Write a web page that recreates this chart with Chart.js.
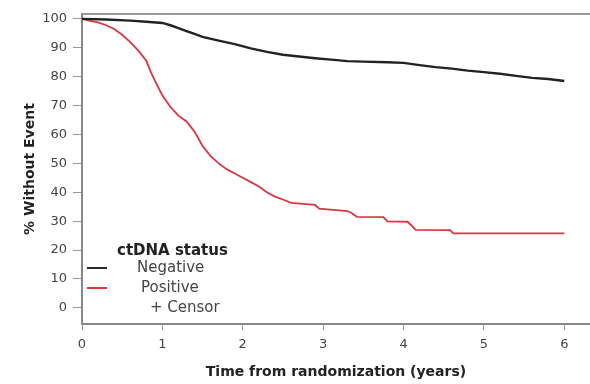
<!DOCTYPE html>
<html>
<head>
<meta charset="utf-8">
<script src="https://cdn.jsdelivr.net/npm/chart.js@4.4.1/dist/chart.umd.min.js"></script>
<style>
  body { margin: 0; background: #fff; }
  #wrap { position: relative; width: 590px; height: 384px; font-family: "DejaVu Sans", sans-serif; }
  .lg { position: absolute; font-size: 15px; color: #444; line-height: 18px; white-space: nowrap; }
  .sw { position: absolute; width: 20px; height: 2px; }
</style>
</head>
<body>
<div id="wrap">
  <canvas id="kmChart"></canvas>
  <div class="lg" style="left:117px; top:241px; font-weight:bold; color:#222;">ctDNA status</div>
  <div class="sw" style="left:87px; top:267px; background:#2a2a2a;"></div>
  <div class="lg" style="left:137px; top:258px;">Negative</div>
  <div class="sw" style="left:87px; top:287px; background:#d9373f;"></div>
  <div class="lg" style="left:141px; top:278px;">Positive</div>
  <div class="lg" style="left:150px; top:298px;">+ Censor</div>
</div>
<script>
// Kaplan-Meier curves (years, % without event)
const negTime = [0, 0.3, 0.6, 0.8, 1.0, 1.1, 1.2, 1.3, 1.4, 1.5, 1.7, 1.9, 2.1, 2.3, 2.5, 2.7, 2.9, 3.1, 3.3, 3.5, 3.8, 4.0, 4.2, 4.4, 4.6, 4.8, 5.0, 5.2, 5.4, 5.6, 5.8, 6.0];
const negSurv = [100, 99.8, 99.4, 99.0, 98.6, 97.8, 96.8, 95.8, 94.8, 93.8, 92.5, 91.3, 89.8, 88.6, 87.6, 87.0, 86.4, 85.9, 85.4, 85.2, 85.0, 84.8, 84.0, 83.3, 82.8, 82.1, 81.6, 81.0, 80.3, 79.6, 79.2, 78.5];

const posTime = [0, 0.1, 0.2, 0.3, 0.4, 0.5, 0.6, 0.7, 0.8, 0.85, 0.9, 1.0, 1.1, 1.2, 1.3, 1.4, 1.5, 1.6, 1.7, 1.8, 1.9, 2.0, 2.1, 2.2, 2.3, 2.4, 2.5, 2.6, 2.9, 2.95, 3.3, 3.35, 3.42, 3.75, 3.8, 4.05, 4.1, 4.15, 4.58, 4.62, 6.0];
const posSurv = [100, 99.3, 98.8, 97.8, 96.5, 94.5, 92.0, 89.0, 85.5, 82.0, 79.0, 73.5, 69.5, 66.5, 64.5, 61.0, 56.0, 52.5, 50.0, 48.0, 46.5, 45.0, 43.5, 42.0, 40.0, 38.5, 37.5, 36.3, 35.6, 34.3, 33.5, 32.9, 31.5, 31.4, 29.9, 29.8, 28.5, 27.0, 26.9, 25.8, 25.8];

const xTicks = [0, 1, 2, 3, 4, 5, 6];
const yTicks = [0, 10, 20, 30, 40, 50, 60, 70, 80, 90, 100];

const toPoints = (t, s) => t.map((x, i) => ({ x: x, y: s[i] }));

// top frame line
const frameTop = {
    id: 'frameTop',
    afterDraw(chart) {
        const { ctx, chartArea } = chart;
        ctx.save();
        ctx.strokeStyle = '#999';
        ctx.lineWidth = 2;
        ctx.beginPath();
        ctx.moveTo(chartArea.left, chartArea.top);
        ctx.lineTo(chartArea.right, chartArea.top);
        ctx.stroke();
        ctx.restore();
    }
};

const tickFont = { family: '"DejaVu Sans", sans-serif', size: 13 };
const titleFont = { family: '"DejaVu Sans", sans-serif', size: 14, weight: 'bold' };

new Chart(document.getElementById('kmChart'), {
    type: 'line',
    data: {
        datasets: [
            {
                label: 'Negative',
                data: toPoints(negTime, negSurv),
                borderColor: '#222',
                borderWidth: 2.4,
                pointRadius: 0,
                tension: 0
            },
            {
                label: 'Positive',
                data: toPoints(posTime, posSurv),
                borderColor: '#d9373f',
                borderWidth: 1.8,
                pointRadius: 0,
                tension: 0
            }
        ]
    },
    options: {
        responsive: true,
        maintainAspectRatio: false,
        animation: false,
        layout: { padding: { top: 14, right: 0, left: 0, bottom: 0 } },
        plugins: { legend: { display: false }, tooltip: { enabled: false } },
        scales: {
            x: {
                type: 'linear',
                min: 0,
                max: 6.32,
                afterBuildTicks: (scale) => { scale.ticks = xTicks.map(v => ({ value: v })); },
                afterFit: (scale) => { scale.height = 60; },
                border: { color: '#888', width: 2 },
                grid: { drawOnChartArea: false, tickLength: 6, color: '#999' },
                ticks: { color: '#444', font: tickFont, padding: 7 },
                title: { display: true, text: 'Time from randomization (years)', color: '#222', font: titleFont, padding: { top: 0, bottom: 3 } }
            },
            y: {
                min: -5.6,
                max: 101.7,
                afterBuildTicks: (scale) => { scale.ticks = yTicks.map(v => ({ value: v })); },
                afterFit: (scale) => { scale.width = 82; },
                border: { color: '#888', width: 2 },
                grid: { drawOnChartArea: false, tickLength: 9, color: '#999' },
                ticks: { color: '#444', font: tickFont, padding: 6 },
                title: { display: true, text: '% Without Event', color: '#222', font: titleFont, padding: { top: 22, bottom: 0 } }
            }
        }
    },
    plugins: [frameTop]
});
</script>
</body>
</html>
